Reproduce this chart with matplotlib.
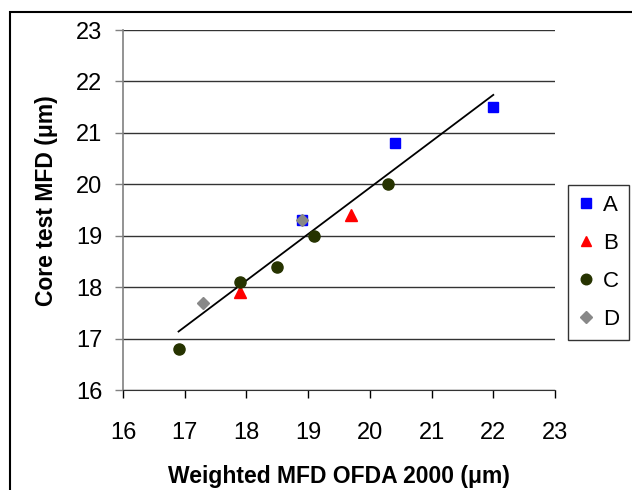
import numpy as np
import matplotlib.pyplot as plt
from matplotlib.patches import Rectangle

plt.rcParams['font.family'] = ['Liberation Sans', 'DejaVu Sans']

# datos por grupo (OFDA 2000 ponderado, core test)
a_x = [18.9, 20.4, 22.0]
a_y = [19.3, 20.8, 21.5]
b_x = [17.9, 19.7]
b_y = [17.9, 19.4]
c_x = [16.9, 17.9, 18.5, 19.1, 20.3]
c_y = [16.8, 18.1, 18.4, 19.0, 20.0]
d_x = [17.3, 18.9]
d_y = [17.7, 19.3]
ticks = [16, 17, 18, 19, 20, 21, 22, 23]

fig = plt.figure(figsize=(6.32, 4.9), dpi=100)
ax = fig.add_axes([123 / 632, 1 - 390 / 490, 432 / 632, 360 / 490])

# marco del grafico
fig.patches.append(Rectangle((9.5 / 632, -0.1), 1.2, 1 - 12 / 490 + 0.1,
                             transform=fig.transFigure, fill=False,
                             edgecolor='black', linewidth=1.5))

# linea de tendencia sobre todos los puntos
todos_x = np.array(a_x + b_x + c_x + d_x)
todos_y = np.array(a_y + b_y + c_y + d_y)
m, b = np.polyfit(todos_x, todos_y, 1)
xl = np.array([todos_x.min(), todos_x.max()])
ax.plot(xl, m * xl + b, color='black', linewidth=1.3, zorder=2)

ax.plot(a_x, a_y, 's', color='#0000ff', markersize=7.5, label='A', zorder=3)
ax.plot(b_x, b_y, '^', color='#ff0000', markersize=8, label='B', zorder=3)
ax.plot(c_x, c_y, 'o', color='#263300', markersize=8, label='C', zorder=3)
ax.plot(d_x, d_y, 'D', color='#888888', markersize=6, label='D', zorder=4)

ax.set_xlim(16, 23)
ax.set_ylim(16, 23)
ax.set_xticks(ticks)
ax.set_yticks(ticks)
ax.tick_params(labelsize=17, direction='out', length=6, width=1)
ax.tick_params(axis='x', pad=17)
ax.tick_params(axis='y', pad=9, color='#808080')
ax.grid(axis='y', color='#333333', linewidth=1)
ax.set_axisbelow(True)
for s in ['top', 'right']:
    ax.spines[s].set_visible(False)
ax.spines['left'].set_color('#808080')
ax.spines['left'].set_linewidth(1.2)
ax.spines['bottom'].set_color('#333333')

ax.set_xlabel('Weighted MFD OFDA 2000 (μm)', fontsize=16.5, fontweight='bold', labelpad=15)
ax.set_ylabel('Core test MFD (μm)', fontsize=16.5, fontweight='bold', labelpad=13)
ax.yaxis.label.set_y(0.525)

leg = ax.legend(loc='upper left', bbox_to_anchor=(568 / 632, 1 - 185 / 490),
                bbox_transform=fig.transFigure, fontsize=16, frameon=True,
                fancybox=False, edgecolor='black', handlelength=0.7,
                handletextpad=0.43, borderpad=0.45, labelspacing=0.76,
                borderaxespad=0, markerscale=0.95)
leg.get_frame().set_linewidth(1)

plt.savefig('out.png', dpi=100)
